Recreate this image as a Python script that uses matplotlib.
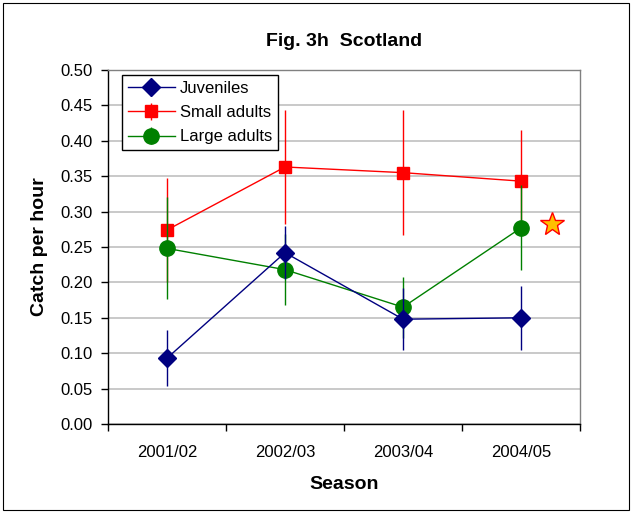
import matplotlib
matplotlib.use("Agg")
import matplotlib.pyplot as plt
from matplotlib.patches import Rectangle

plt.rcParams['font.family'] = ['Liberation Sans', 'DejaVu Sans']

seasons = ["2001/02", "2002/03", "2003/04", "2004/05"]
juveniles = [0.093, 0.242, 0.148, 0.150]
juveniles_err = [0.040, 0.037, 0.044, 0.045]
small_adults = [0.274, 0.363, 0.355, 0.343]
small_adults_err = [0.073, 0.080, 0.088, 0.072]
large_adults = [0.248, 0.218, 0.165, 0.277]
large_adults_err = [0.072, 0.050, 0.043, 0.060]
star_x = 3.26
star_y = 0.283

fig = plt.figure(figsize=(6.32, 5.12), dpi=100)
fig.patches.append(Rectangle((0.004, 0.004), 0.992, 0.99, transform=fig.transFigure,
                             fill=False, edgecolor='black', linewidth=0.8))
ax = fig.add_axes([0.1709, 0.1719, 0.7468, 0.6914])

x = list(range(len(seasons)))
ax.errorbar(x, small_adults, yerr=small_adults_err, color='#ff0000', marker='s',
            markersize=9, linewidth=1.0, elinewidth=1.0, capsize=0, label='Small adults', zorder=3)
ax.errorbar(x, large_adults, yerr=large_adults_err, color='#008000', marker='o',
            markersize=11, linewidth=1.0, elinewidth=1.0, capsize=0, label='Large adults', zorder=4)
ax.errorbar(x, juveniles, yerr=juveniles_err, color='#000080', marker='D',
            markersize=9, linewidth=1.0, elinewidth=1.0, capsize=0, label='Juveniles', zorder=5)
ax.plot([star_x], [star_y], marker='*', markersize=18, markerfacecolor='#ffc000',
        markeredgecolor='#ff0000', markeredgewidth=1.0, linestyle='none', zorder=6)

ax.set_xlim(-0.5, 3.5)
ax.set_ylim(0, 0.5)
ax.set_yticks([i * 0.05 for i in range(11)])
ax.set_yticklabels([f"{i*0.05:.2f}" for i in range(11)], fontsize=12)
ax.set_xticks(x)
ax.set_xticklabels(seasons, fontsize=12)
ax.set_xticks([-0.5, 0.5, 1.5, 2.5, 3.5], minor=True)
ax.tick_params(axis='x', which='major', length=0, pad=15)
ax.tick_params(axis='x', which='minor', length=5, direction='out', width=1)
ax.tick_params(axis='y', length=5, direction='out', width=1, pad=6)
ax.grid(axis='y', color='#c0c0c0', linewidth=1.2)
ax.set_axisbelow(True)
ax.spines['left'].set_color('black')
ax.spines['bottom'].set_color('black')
ax.spines['top'].set_color('#808080')
ax.spines['right'].set_color('#808080')
for s in ax.spines.values():
    s.set_linewidth(1.0)

ax.set_ylabel("Catch per hour", fontsize=14, fontweight='bold', labelpad=9)
ax.set_xlabel("Season", fontsize=14, fontweight='bold', labelpad=12)
ax.set_title("Fig. 3h  Scotland", fontsize=14, fontweight='bold', pad=17)

handles, labels = ax.get_legend_handles_labels()
order = [2, 0, 1]
leg = ax.legend([handles[i] for i in order], [labels[i] for i in order],
                loc='upper left', bbox_to_anchor=(0.03, 0.985), fontsize=12,
                frameon=True, fancybox=False, edgecolor='black', framealpha=1,
                borderpad=0.35, labelspacing=0.55, handlelength=2.8, handletextpad=0.3,
                borderaxespad=0)
leg.get_frame().set_linewidth(1.0)

fig.savefig("out.png", dpi=100)
